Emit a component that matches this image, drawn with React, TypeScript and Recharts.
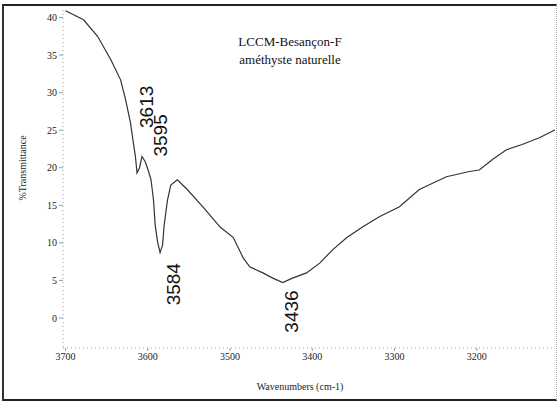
import { Line, LineChart, ReferenceDot, XAxis, YAxis } from "recharts";

// wavenumber (cm-1) and %T
const wavenumbers = [
  3700, 3698, 3678, 3661, 3645, 3633, 3627, 3621, 3618, 3615, 3613, 3610, 3607, 3603,
  3599, 3596, 3593, 3591, 3588, 3585, 3582, 3580, 3576, 3572, 3564, 3552, 3533, 3512,
  3496, 3484, 3476, 3460, 3448, 3436, 3424, 3407, 3391, 3375, 3358, 3339, 3318, 3294,
  3270, 3237, 3209, 3197, 3181, 3164, 3145, 3124, 3104,
];
const transmittance = [
  40.9, 40.8, 39.7, 37.5, 34.4, 31.7, 29.1, 26.0, 23.7, 21.5, 19.3, 20.0, 21.5, 20.8,
  19.5, 18.4, 15.7, 12.4, 10.1, 8.7, 9.7, 12.4, 15.7, 17.7, 18.4, 17.1, 14.8, 12.1,
  10.7, 8.0, 6.8, 6.0, 5.3, 4.7, 5.3, 6.0, 7.3, 9.1, 10.7, 12.1, 13.5, 14.8,
  17.1, 18.8, 19.5, 19.7, 21.1, 22.4, 23.1, 24.0, 25.1,
];
const xTicks = [3700, 3600, 3500, 3400, 3300, 3200];
const yTicks = [0, 5, 10, 15, 20, 25, 30, 35, 40];

const peakWn = [3613, 3595, 3584, 3436];
const peakT = [19.3, 17.5, 9.0, 4.7];
const peakOffsets = [
  [16, -45],
  [15, -30],
  [19, 55],
  [15, 50],
];

const data = wavenumbers.map((wn, i) => ({ wn, t: transmittance[i] }));

const serif = "'Liberation Serif', 'DejaVu Serif', serif";

export default function App() {
  return (
    <div style={{ position: "absolute", left: 0, top: 0, width: 558, height: 403, background: "#fff" }}>
      <div
        style={{
          position: "absolute",
          left: 2,
          top: 4,
          width: 552,
          height: 393,
          borderTop: "2px solid #222",
          borderLeft: "2px solid #333",
          borderBottom: "2px solid #222",
          borderRight: "1px dotted #aaa",
        }}
      />
      <LineChart width={558} height={403} data={data} margin={{ top: 10, right: 3, bottom: 25, left: 13 }}>
        <XAxis
          dataKey="wn"
          type="number"
          domain={[3105, 3703]}
          reversed
          allowDataOverflow
          ticks={xTicks}
          height={30}
          tickSize={3}
          axisLine={{ stroke: "#999", strokeDasharray: "1 3" }}
          tickLine={{ stroke: "#999" }}
          tick={{ fontSize: 10, fontFamily: serif, fill: "#222" }}
        />
        <YAxis
          type="number"
          domain={[-4, 41]}
          allowDataOverflow
          ticks={yTicks}
          width={50}
          tickSize={4}
          axisLine={{ stroke: "#999", strokeDasharray: "1 3" }}
          tickLine={{ stroke: "#999" }}
          tick={{ fontSize: 10, fontFamily: serif, fill: "#222" }}
        />
        <Line
          dataKey="t"
          type="linear"
          stroke="#333"
          strokeWidth={1.2}
          dot={false}
          isAnimationActive={false}
        />
        {peakWn.map((wn, i) => (
          <ReferenceDot
            key={wn}
            x={wn}
            y={peakT[i]}
            r={0}
            ifOverflow="visible"
            shape={(p: any) => {
              const x = p.cx + peakOffsets[i][0];
              const y = p.cy + peakOffsets[i][1];
              return (
                <text
                  x={x}
                  y={y}
                  transform={`rotate(-90 ${x} ${y})`}
                  fontSize={19}
                  fontFamily="'Liberation Sans', Arial, sans-serif"
                  fill="#111"
                >
                  {wn}
                </text>
              );
            }}
          />
        ))}
      </LineChart>
      <div
        style={{
          position: "absolute",
          left: 190,
          top: 33,
          width: 200,
          textAlign: "center",
          fontFamily: serif,
          fontSize: 13,
          lineHeight: "18px",
          color: "#111",
        }}
      >
        LCCM-Besançon-F
        <br />
        améthyste naturelle
      </div>
      <div
        style={{
          position: "absolute",
          left: 200,
          top: 381,
          width: 200,
          textAlign: "center",
          fontFamily: serif,
          fontSize: 10,
          color: "#222",
        }}
      >
        Wavenumbers (cm-1)
      </div>
      <div
        style={{
          position: "absolute",
          left: 22,
          top: 168,
          width: 120,
          marginLeft: -60,
          textAlign: "center",
          transform: "translateY(-50%) rotate(-90deg)",
          fontFamily: serif,
          fontSize: 10,
          color: "#222",
        }}
      >
        %Transmittance
      </div>
    </div>
  );
}
